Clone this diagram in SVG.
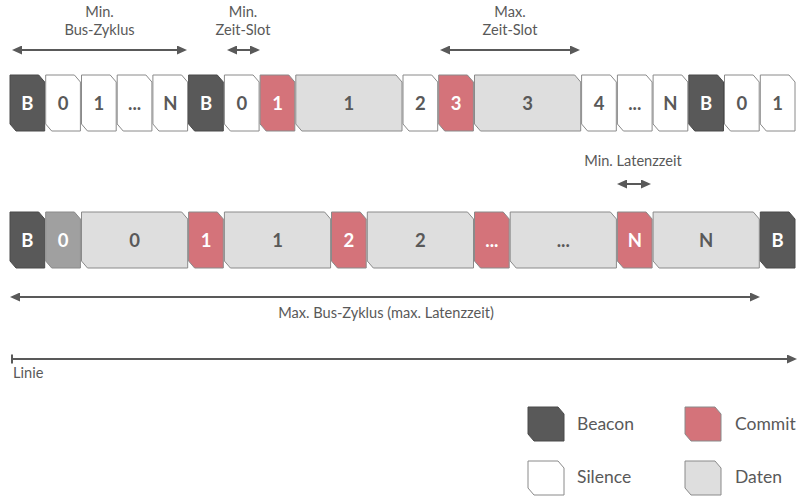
<svg xmlns="http://www.w3.org/2000/svg" width="800" height="500" viewBox="0 0 800 500">
<style>
  .bc{fill:#595959;stroke:#4a4a4a;stroke-width:1}
  .cm{fill:#d4737a;stroke:#8a8a8a;stroke-width:1}
  .si{fill:#ffffff;stroke:#8a8a8a;stroke-width:1}
  .da{fill:#dedede;stroke:#8a8a8a;stroke-width:1}
  .gr{fill:#a0a0a0;stroke:#8a8a8a;stroke-width:1}
  .tw{font-family:Lato,"Open Sans",sans-serif;font-weight:bold;font-size:18.5px;fill:#ffffff;text-anchor:middle}
  .td{font-family:Lato,"Open Sans",sans-serif;font-weight:bold;font-size:18.5px;fill:#595959;text-anchor:middle}
  .lb{font-family:Lato,"Open Sans",sans-serif;font-size:14.6px;fill:#595959;text-anchor:middle}
  .lg{font-family:Lato,"Open Sans",sans-serif;font-size:17.5px;fill:#595959}
  .ar{stroke:#595959;stroke-width:2;fill:none}
</style>
<defs>
  <marker id="ah" markerUnits="userSpaceOnUse" markerWidth="10" markerHeight="9" refX="4" refY="4.5" orient="auto-start-reverse" viewBox="0 0 10 9">
    <path d="M0,0 L10,4.5 L0,9 Z" fill="#595959"/>
  </marker>
</defs>

<!-- Top row -->
<g id="t-b1"><path class="bc" d="M10,75 H38.7 L44.7,82 V131 H16 L10,124 Z"/><text class="tw" x="27.4" y="109.5">B</text></g>
<g id="t-s0"><path class="si" d="M45.7,75 H74.4 L80.4,82 V131 H51.7 L45.7,124 Z"/><text class="td" x="63.1" y="109.5">0</text></g>
<g id="t-s1"><path class="si" d="M81.5,75 H110.2 L116.2,82 V131 H87.5 L81.5,124 Z"/><text class="td" x="98.9" y="109.5">1</text></g>
<g id="t-sd"><path class="si" d="M117.2,75 H145.9 L151.9,82 V131 H123.2 L117.2,124 Z"/><text class="td" x="134.6" y="109.5">...</text></g>
<g id="t-sn"><path class="si" d="M152.9,75 H181.6 L187.6,82 V131 H158.9 L152.9,124 Z"/><text class="td" x="170.3" y="109.5">N</text></g>
<g id="t-b2"><path class="bc" d="M188.6,75 H217.3 L223.3,82 V131 H194.6 L188.6,124 Z"/><text class="tw" x="206" y="109.5">B</text></g>
<g id="t-s0b"><path class="si" d="M224.4,75 H253.1 L259.1,82 V131 H230.4 L224.4,124 Z"/><text class="td" x="241.8" y="109.5">0</text></g>
<g id="t-c1"><path class="cm" d="M260.1,75 H288.8 L294.8,82 V131 H266.1 L260.1,124 Z"/><text class="tw" x="277.5" y="109.5">1</text></g>
<g id="t-d1"><path class="da" d="M295.8,75 H396 L402,82 V131 H301.8 L295.8,124 Z"/><text class="td" x="348.9" y="109.5">1</text></g>
<g id="t-s2"><path class="si" d="M403,75 H431.7 L437.7,82 V131 H409 L403,124 Z"/><text class="td" x="420.4" y="109.5">2</text></g>
<g id="t-c3"><path class="cm" d="M438.7,75 H467.4 L473.4,82 V131 H444.7 L438.7,124 Z"/><text class="tw" x="456.1" y="109.5">3</text></g>
<g id="t-d3"><path class="da" d="M474.5,75 H574.7 L580.7,82 V131 H480.5 L474.5,124 Z"/><text class="td" x="527.6" y="109.5">3</text></g>
<g id="t-s4"><path class="si" d="M581.6,75 H610.3 L616.3,82 V131 H587.6 L581.6,124 Z"/><text class="td" x="599" y="109.5">4</text></g>
<g id="t-sd2"><path class="si" d="M617.4,75 H646.1 L652.1,82 V131 H623.4 L617.4,124 Z"/><text class="td" x="634.8" y="109.5">...</text></g>
<g id="t-sn2"><path class="si" d="M653.1,75 H681.8 L687.8,82 V131 H659.1 L653.1,124 Z"/><text class="td" x="670.5" y="109.5">N</text></g>
<g id="t-b3"><path class="bc" d="M688.8,75 H717.5 L723.5,82 V131 H694.8 L688.8,124 Z"/><text class="tw" x="706.2" y="109.5">B</text></g>
<g id="t-s0c"><path class="si" d="M724.5,75 H753.2 L759.2,82 V131 H730.5 L724.5,124 Z"/><text class="td" x="741.9" y="109.5">0</text></g>
<g id="t-s1c"><path class="si" d="M760.3,75 H789 L795,82 V131 H766.3 L760.3,124 Z"/><text class="td" x="777.7" y="109.5">1</text></g>

<!-- Bottom row -->
<g id="b-b1"><path class="bc" d="M10,212 H38.7 L44.7,219 V268 H16 L10,261 Z"/><text class="tw" x="27.4" y="246.5">B</text></g>
<g id="b-g0"><path class="gr" d="M45.7,212 H74.4 L80.4,219 V268 H51.7 L45.7,261 Z"/><text class="tw" x="63.1" y="246.5">0</text></g>
<g id="b-d0"><path class="da" d="M81.5,212 H181.7 L187.7,219 V268 H87.5 L81.5,261 Z"/><text class="td" x="134.6" y="246.5">0</text></g>
<g id="b-c1"><path class="cm" d="M188.6,212 H217.3 L223.3,219 V268 H194.6 L188.6,261 Z"/><text class="tw" x="206" y="246.5">1</text></g>
<g id="b-d1"><path class="da" d="M224.4,212 H324.6 L330.6,219 V268 H230.4 L224.4,261 Z"/><text class="td" x="277.5" y="246.5">1</text></g>
<g id="b-c2"><path class="cm" d="M331.5,212 H360.2 L366.2,219 V268 H337.5 L331.5,261 Z"/><text class="tw" x="348.9" y="246.5">2</text></g>
<g id="b-d2"><path class="da" d="M367.3,212 H467.5 L473.5,219 V268 H373.3 L367.3,261 Z"/><text class="td" x="420.4" y="246.5">2</text></g>
<g id="b-cd"><path class="cm" d="M474.5,212 H503.2 L509.2,219 V268 H480.5 L474.5,261 Z"/><text class="tw" x="491.9" y="246.5">...</text></g>
<g id="b-dd"><path class="da" d="M510.2,212 H610.4 L616.4,219 V268 H516.2 L510.2,261 Z"/><text class="td" x="563.3" y="246.5">...</text></g>
<g id="b-cn"><path class="cm" d="M617.4,212 H646.1 L652.1,219 V268 H623.4 L617.4,261 Z"/><text class="tw" x="634.8" y="246.5">N</text></g>
<g id="b-dn"><path class="da" d="M653.1,212 H753.3 L759.3,219 V268 H659.1 L653.1,261 Z"/><text class="td" x="706.2" y="246.5">N</text></g>
<g id="b-b2"><path class="bc" d="M760.3,212 H789 L795,219 V268 H766.3 L760.3,261 Z"/><text class="tw" x="777.7" y="246.5">B</text></g>

<!-- Connectors / measurement arrows -->
<g id="connectors">
  <line class="ar" x1="18" y1="50" x2="181" y2="50" marker-start="url(#ah)" marker-end="url(#ah)"/>
  <line class="ar" x1="233" y1="50" x2="254" y2="50" marker-start="url(#ah)" marker-end="url(#ah)"/>
  <line class="ar" x1="446" y1="50" x2="574" y2="50" marker-start="url(#ah)" marker-end="url(#ah)"/>
  <line class="ar" x1="623" y1="184" x2="645" y2="184" marker-start="url(#ah)" marker-end="url(#ah)"/>
  <line class="ar" x1="16" y1="297" x2="754" y2="297" marker-start="url(#ah)" marker-end="url(#ah)"/>
  <line class="ar" x1="12" y1="359" x2="791" y2="359" marker-end="url(#ah)"/>
  <line class="ar" x1="12" y1="354.5" x2="12" y2="363.5"/>
</g>

<g id="labels">
  <text class="lb" x="99.5" y="17">Min.</text>
  <text class="lb" x="99.5" y="35">Bus-Zyklus</text>
  <text class="lb" x="243" y="17">Min.</text>
  <text class="lb" x="243" y="35">Zeit-Slot</text>
  <text class="lb" x="510" y="17">Max.</text>
  <text class="lb" x="510" y="35">Zeit-Slot</text>
  <text class="lb" x="633" y="166">Min. Latenzzeit</text>
  <text class="lb" x="386" y="318">Max. Bus-Zyklus (max. Latenzzeit)</text>
  <text class="lb" x="13" y="378" style="text-anchor:start">Linie</text>
</g>

<!-- Legend -->
<g id="legend-beacon"><path class="bc" d="M528,407 H558 L564,414 V441 H534 L528,434 Z"/><text class="lg" x="577" y="430">Beacon</text></g>
<g id="legend-commit"><path class="cm" d="M685,407 H715 L721,414 V441 H691 L685,434 Z"/><text class="lg" x="735" y="430">Commit</text></g>
<g id="legend-silence"><path class="si" d="M528,461 H558 L564,468 V495 H534 L528,488 Z"/><text class="lg" x="577" y="483">Silence</text></g>
<g id="legend-daten"><path class="da" d="M685,461 H715 L721,468 V495 H691 L685,488 Z"/><text class="lg" x="735" y="483">Daten</text></g>
</svg>
